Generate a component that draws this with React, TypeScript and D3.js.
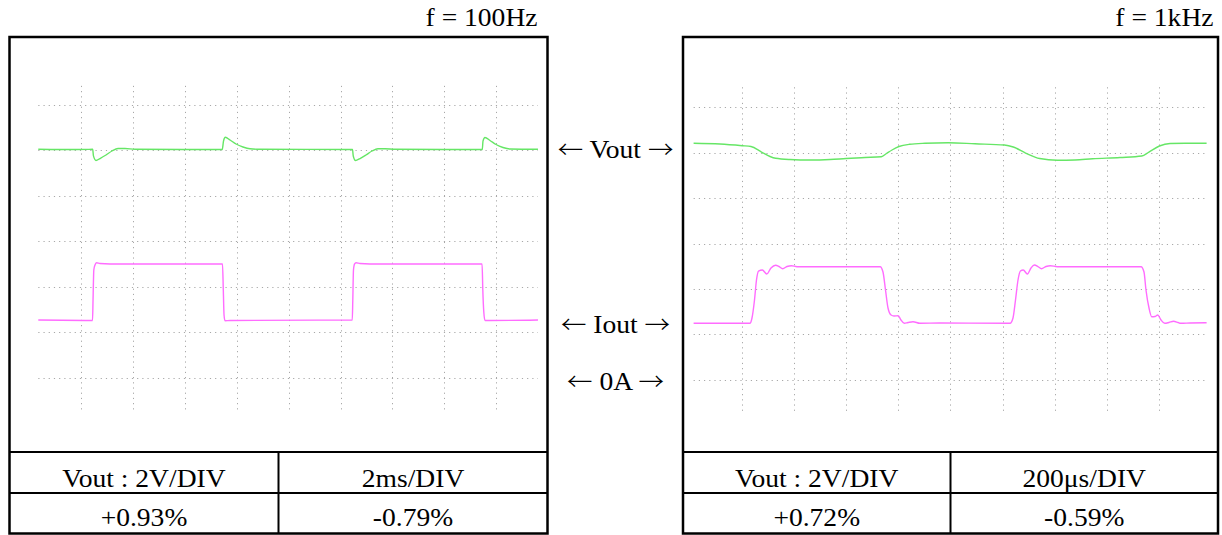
import React from "react";
import * as d3 from "d3";

// ---- data (time in divisions, amplitude in divisions; 0 = screen centre) ----
const gridDivisions = [1, 2, 3, 4, 5, 6, 7, 8, 9];
const gridLevels = [3, 2, 1, 0, -1, -2, -3];

const titles = ["f = 100Hz", "f = 1kHz"];
const voltScale = ["Vout : 2V/DIV", "Vout : 2V/DIV"];
const timeScale = ["2ms/DIV", "200\u03bcs/DIV"];
const plusDev = ["+0.93%", "+0.72%"];
const minusDev = ["-0.79%", "-0.59%"];
const midLabels = ["Vout", "Iout", "0A"];
const midLabelLevels = [2.0, -1.85, -3.1];

// 100 Hz panel
const vout100T = [0.177, 0.6, 1.225, 1.24, 1.289, 1.366, 1.482, 1.597, 1.713, 1.848, 2.04, 3.722, 3.746, 3.782, 3.871, 3.987, 4.121, 4.256, 4.449, 6.231, 6.246, 6.289, 6.376, 6.491, 6.607, 6.722, 6.857, 7.05, 8.732, 8.746, 8.784, 8.88, 8.996, 9.13, 9.265, 9.805];
const vout100V = [2.015, 2.01, 2.015, 1.87, 1.769, 1.813, 1.89, 1.978, 2.033, 2.033, 2.015, 2.011, 2.198, 2.279, 2.22, 2.132, 2.066, 2.026, 2.015, 2.011, 1.868, 1.769, 1.813, 1.89, 1.978, 2.029, 2.029, 2.015, 2.011, 2.198, 2.275, 2.209, 2.121, 2.055, 2.022, 2.015];
const iout100T = [0.177, 1.222, 1.232, 1.247, 1.27, 1.299, 1.366, 1.559, 3.726, 3.742, 3.756, 3.775, 3.871, 6.227, 6.237, 6.25, 6.272, 6.299, 6.376, 6.568, 8.728, 8.742, 8.761, 8.784, 8.88, 9.805];
const iout100V = [-1.736, -1.747, -1.297, -0.637, -0.527, -0.479, -0.495, -0.505, -0.505, -1.077, -1.626, -1.754, -1.747, -1.736, -1.297, -0.637, -0.505, -0.479, -0.495, -0.505, -0.505, -1.077, -1.56, -1.747, -1.747, -1.736];

// 1 kHz panel
const vout1kT = [0.077, 0.583, 1.008, 1.177, 1.378, 1.541, 1.648, 1.924, 2.323, 2.691, 2.998, 3.362, 3.675, 3.774, 3.88, 4.012, 4.213, 4.512, 4.957, 5.471, 6.036, 6.205, 6.44, 6.711, 7.048, 7.387, 7.723, 8.25, 8.668, 8.804, 9.005, 9.209, 9.496, 9.91];
const vout1kV = [2.207, 2.191, 2.154, 2.136, 2.015, 1.916, 1.877, 1.85, 1.839, 1.85, 1.872, 1.894, 1.912, 1.982, 2.059, 2.136, 2.185, 2.207, 2.218, 2.196, 2.169, 2.125, 1.993, 1.872, 1.833, 1.839, 1.866, 1.894, 1.927, 2.015, 2.147, 2.202, 2.209, 2.207];
const iout1kT = [0.077, 1.156, 1.196, 1.244, 1.282, 1.321, 1.394, 1.48, 1.56, 1.648, 1.713, 1.785, 1.867, 1.953, 2.059, 3.653, 3.707, 3.755, 3.803, 3.862, 3.918, 3.998, 4.052, 4.114, 4.186, 4.282, 4.416, 4.8, 6.143, 6.199, 6.247, 6.295, 6.341, 6.395, 6.475, 6.544, 6.609, 6.678, 6.745, 6.831, 6.914, 7.048, 8.654, 8.71, 8.748, 8.806, 8.858, 8.921, 8.973, 9.036, 9.107, 9.189, 9.276, 9.362, 9.412, 9.592, 9.91];
const iout1kV = [-1.754, -1.754, -1.637, -1.241, -0.801, -0.603, -0.581, -0.669, -0.537, -0.477, -0.504, -0.552, -0.504, -0.486, -0.508, -0.508, -0.625, -1.021, -1.417, -1.571, -1.593, -1.586, -1.681, -1.754, -1.736, -1.718, -1.754, -1.747, -1.754, -1.637, -1.241, -0.801, -0.603, -0.581, -0.669, -0.537, -0.471, -0.504, -0.552, -0.504, -0.486, -0.508, -0.508, -0.625, -1.021, -1.417, -1.608, -1.604, -1.571, -1.681, -1.754, -1.736, -1.709, -1.736, -1.754, -1.747, -1.74];

const VOUT_COLOR = "#66e666";
const IOUT_COLOR = "#ff6cff";
const FONT = "'Liberation Serif', 'Times New Roman', serif";
const ARROW_FONT = "'Noto Sans CJK JP', 'DejaVu Sans', sans-serif";

type PanelCfg = {
  box: [number, number];
  xRange: [number, number];
  yCenter: number;
  ySpacing: number;
  gridT: [number, number];
  gridV: [number, number];
  vT: number[]; vV: number[]; iT: number[]; iV: number[];
  titleX: number;
  idx: number;
};

const TOP = 37;
const BOTTOM = 533.5;
const ROW1 = 452;
const ROW2 = 493;

function Txt({ x, y, anchor, children }: { x: number; y: number; anchor: string; children: React.ReactNode }) {
  return (
    <text
      transform={`translate(${x},${y}) scale(1.06,1)`}
      textAnchor={anchor}
      fontFamily={FONT}
      fontSize={26}
      fill="#000"
    >
      {children}
    </text>
  );
}

function Panel({ cfg }: { cfg: PanelCfg }) {
  const x = d3.scaleLinear().domain([0, 10]).range(cfg.xRange);
  const y = d3.scaleLinear().domain([-4, 4]).range([cfg.yCenter + 4 * cfg.ySpacing, cfg.yCenter - 4 * cfg.ySpacing]);
  const line = d3
    .line<[number, number]>()
    .x((d) => x(d[0]))
    .y((d) => y(d[1]))
    .curve(d3.curveMonotoneX);
  const vPts = cfg.vT.map((t, i) => [t, cfg.vV[i]] as [number, number]);
  const iPts = cfg.iT.map((t, i) => [t, cfg.iV[i]] as [number, number]);
  const [bx1, bx2] = cfg.box;
  const mid = (bx1 + bx2) / 2;
  return (
    <g>
      {gridLevels.map((l) => (
        <line
          key={"h" + l}
          x1={x(cfg.gridT[0])}
          x2={x(cfg.gridT[1])}
          y1={Math.round(y(l)) + 0.5}
          y2={Math.round(y(l)) + 0.5}
          stroke="#a8a8a8"
          strokeWidth={1}
          strokeDasharray="1.2 4"
        />
      ))}
      {gridDivisions.map((dv) => (
        <line
          key={"v" + dv}
          x1={Math.round(x(dv)) + 0.5}
          x2={Math.round(x(dv)) + 0.5}
          y1={y(cfg.gridV[0])}
          y2={y(cfg.gridV[1])}
          stroke="#a8a8a8"
          strokeWidth={1}
          strokeDasharray="1.2 4"
        />
      ))}
      <path d={line(vPts) || ""} fill="none" stroke={VOUT_COLOR} strokeWidth={1.4} />
      <path d={line(iPts) || ""} fill="none" stroke={IOUT_COLOR} strokeWidth={1.4} />
      <rect x={bx1} y={TOP} width={bx2 - bx1} height={BOTTOM - TOP} fill="none" stroke="#000" strokeWidth={2.5} />
      <line x1={bx1} x2={bx2} y1={ROW1} y2={ROW1} stroke="#000" strokeWidth={2} />
      <line x1={bx1} x2={bx2} y1={ROW2} y2={ROW2} stroke="#000" strokeWidth={2} />
      <line x1={mid} x2={mid} y1={ROW1} y2={BOTTOM} stroke="#000" strokeWidth={2} />
      <Txt x={cfg.titleX} y={26} anchor="end">{titles[cfg.idx]}</Txt>
      <Txt x={(bx1 + mid) / 2} y={486.5} anchor="middle">{voltScale[cfg.idx]}</Txt>
      <Txt x={(mid + bx2) / 2} y={486.5} anchor="middle">{timeScale[cfg.idx]}</Txt>
      <Txt x={(bx1 + mid) / 2} y={526} anchor="middle">{plusDev[cfg.idx]}</Txt>
      <Txt x={(mid + bx2) / 2} y={526} anchor="middle">{minusDev[cfg.idx]}</Txt>
    </g>
  );
}

export default function App() {
  const left: PanelCfg = {
    box: [9.5, 547.5],
    xRange: [29.1, 548.1],
    yCenter: 241,
    ySpacing: 45.5,
    gridT: [0.177, 9.805],
    gridV: [3.41, -3.78],
    vT: vout100T, vV: vout100V, iT: iout100T, iV: iout100V,
    titleX: 537.5,
    idx: 0,
  };
  const right: PanelCfg = {
    box: [683, 1218],
    xRange: [689.6, 1211.3],
    yCenter: 243.6,
    ySpacing: 45.45,
    gridT: [0.077, 9.91],
    gridV: [3.44, -3.72],
    vT: vout1kT, vV: vout1kV, iT: iout1kT, iV: iout1kV,
    titleX: 1213.5,
    idx: 1,
  };
  const yMid = d3.scaleLinear().domain([-4, 4]).range([241 + 4 * 45.5, 241 - 4 * 45.5]);
  return (
    <svg width={1222} height={535} style={{ position: "absolute", left: 0, top: 0, background: "#fff" }}>
      <rect width={1222} height={535} fill="#fff" />
      <Panel cfg={left} />
      <Panel cfg={right} />
      {midLabels.map((t, i) => (
        <Txt key={t} x={615.5} y={yMid(midLabelLevels[i]) + 8} anchor="middle">
          <tspan fontFamily={ARROW_FONT} fontWeight={300} fontSize={24}>{"\u2190"}</tspan>
          {" " + t + " "}
          <tspan fontFamily={ARROW_FONT} fontWeight={300} fontSize={24}>{"\u2192"}</tspan>
        </Txt>
      ))}
    </svg>
  );
}
